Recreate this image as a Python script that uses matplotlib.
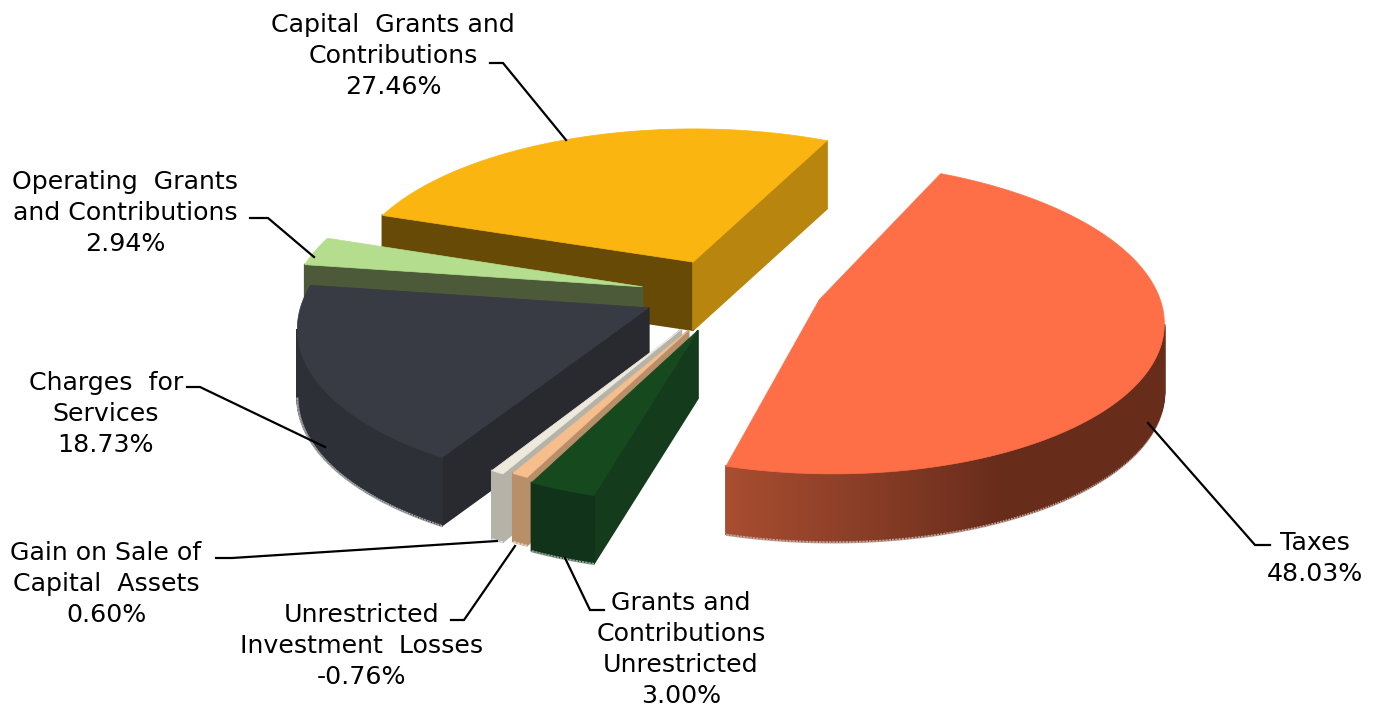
import numpy as np
import matplotlib
matplotlib.use("Agg")
import matplotlib.pyplot as plt
from matplotlib.colors import to_rgb

# slices, clockwise from Taxes
labels = ["Taxes", "Grants and\nContributions\nUnrestricted", "Unrestricted\nInvestment  Losses",
          "Gain on Sale of\nCapital  Assets", "Charges  for\nServices",
          "Operating  Grants\nand Contributions", "Capital  Grants and\nContributions"]
values = [48.03, 3.00, -0.76, 0.60, 18.73, 2.94, 27.46]

top_colors = ["#FF6F47", "#17491F", "#F6BE8D", "#EDE9DD", "#383B44", "#B5DD8E", "#FBB511"]
wall_colors = ["#682C1B", "#10331A", "#B98F6A", "#B5B2A8", "#2E3037", "#4D5A3A", "#664A05"]
start_face = ["#682C1B", "#143B1C", "#B98F6A", "#B5B2A8", "#282A30", "#4D5A3A", "#664A05"]
end_face = ["#682C1B", "#143B1C", "#B98F6A", "#B5B2A8", "#282A30", "#4D5A3A", "#B8860F"]

# how far each slice is pulled out of the pie (disc units), and its radius scale
explode_u = [117, -2, -11, -18, -50, -57, -7]
explode_v = [54, 118, 118, 116, 71, 26, -29]
radius_scale = [0.97, 0.93, 0.90, 0.91, 0.985, 1, 1]
draw_order = [6, 5, 4, 3, 2, 1, 0]

# label position (centre x, top line y) and leader line
label_pos = [(1315, 541), (681, 601), (362, 613), (106, 551), (106, 381), (125, 180), (393, 23)]
leaders = [[(1270, 545), (1255, 545), (1148, 423)],
           [(604, 610), (590, 610), (565, 558)],
           [(451, 620), (464, 620), (515, 546)],
           [(216, 558), (232, 558), (497, 541)],
           [(187, 387), (200, 387), (325, 447)],
           [(250, 218), (268, 218), (314, 257)],
           [(490, 63), (503, 63), (566, 140)]]

CX, CY = 700, 275
R = 345
TILT = 0.45
PERSP = 0.000353
DEPTH = 68
START = 26


def project(u, v):
    s = 1 + PERSP * v
    return CX + u * s, CY + TILT * v * s


def mix(c1, c2, t):
    a, b = np.array(to_rgb(c1)), np.array(to_rgb(c2))
    return tuple(a + (b - a) * t)


fig = plt.figure(figsize=(13.77, 7.08), dpi=100)
ax = fig.add_axes([0, 0, 1, 1])
ax.set_xlim(0, 1377)
ax.set_ylim(708, 0)
ax.axis("off")

sizes = np.abs(values) / np.sum(np.abs(values)) * 360
starts = START + np.concatenate([[0], np.cumsum(sizes)[:-1]])

for i in draw_order:
    n = max(int(sizes[i] * 2), 3)
    th = np.radians(np.linspace(starts[i], starts[i] + sizes[i], n))
    r = R * radius_scale[i]
    us = explode_u[i] + r * np.sin(th)
    vs = explode_v[i] - r * np.cos(th)
    arc_x, arc_y = project(us, vs)
    apex_x, apex_y = project(explode_u[i], explode_v[i])
    xs = np.concatenate([[apex_x], arc_x, [apex_x]])
    ys = np.concatenate([[apex_y], arc_y, [apex_y]])

    # only faces on edges running leftwards on screen can be seen
    for j in range(len(xs) - 1):
        if xs[j + 1] >= xs[j]:
            continue
        if j == 0:
            col = start_face[i]
        elif j == len(xs) - 2:
            col = end_face[i]
        else:
            col = wall_colors[i]
            if i == 0:
                # the taxes wall gets lighter towards its front corner
                col = mix(wall_colors[i], "#A84D30", np.clip((j / (n - 1) - 0.75) / 0.25, 0, 1))
        ax.fill([xs[j], xs[j + 1], xs[j + 1], xs[j]],
                [ys[j], ys[j + 1], ys[j + 1] + DEPTH, ys[j] + DEPTH],
                color=col, lw=1.3, zorder=2)
        # pale ragged fringe along the lower edge of the wall
        if 0 < j < len(xs) - 2:
            ax.plot([xs[j], xs[j + 1]], [ys[j] + DEPTH + 0.5, ys[j + 1] + DEPTH + 0.5],
                    color=mix(wall_colors[i], "#FFFFFF", 0.55), lw=1.6,
                    dashes=(1.5, 1.5), zorder=2)
    ax.fill(xs, ys, color=top_colors[i], lw=0.5, zorder=2)

for i in range(len(labels)):
    x, y = label_pos[i]
    ax.text(x, y - 10, f"{labels[i]}\n{values[i]:.2f}%", ha="center", va="top",
            fontsize=18.2, family="DejaVu Sans", color="black", linespacing=1.36, zorder=4)
    lx, ly = zip(*leaders[i])
    ax.plot(lx, ly, color="black", lw=1.6, zorder=3, solid_joinstyle="miter")

fig.savefig("out.png", dpi=100)
